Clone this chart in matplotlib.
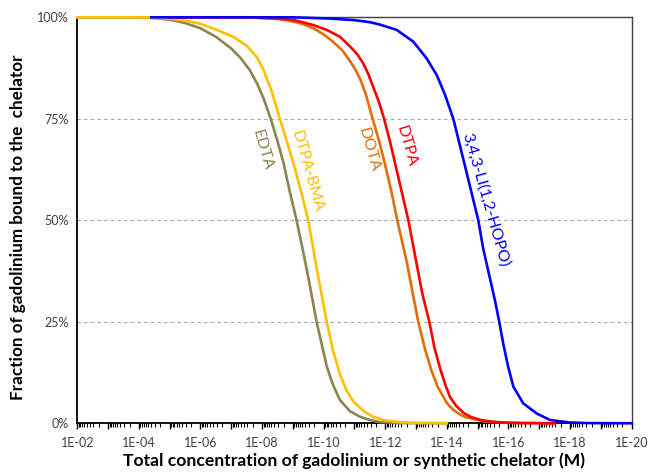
import matplotlib.pyplot as plt
import matplotlib.ticker as mticker
import numpy as np

plt.rcParams['font.family'] = ['Lato', 'DejaVu Sans']

# log10 of total concentration (M) and % of Gd bound, per chelator
edta_logc = [-2, -4, -4.5, -5, -5.5, -6, -6.5, -7, -7.3, -7.6, -7.85, -8.05, -8.28,
             -8.5, -8.7, -8.9, -9.12, -9.3, -9.5, -9.77, -9.95, -10.1, -10.3, -10.53,
             -10.85, -11.18, -11.5, -11.83, -12.5, -14]
edta_pct = [100, 100, 99.8, 99.4, 98.6, 97.3, 95.2, 92.3, 90, 87, 83.5, 80, 75,
            69.5, 64, 57, 50, 43.5, 36, 25, 19, 14, 9.5, 5.7,
            3, 1.6, 0.8, 0.3, 0.05, 0]

bma_logc = [-2, -4, -4.5, -5, -5.5, -6, -6.5, -7.06, -7.5, -7.83, -8.05, -8.3, -8.58,
            -8.8, -9.02, -9.27, -9.5, -9.8, -10.1, -10.3, -10.53, -10.75, -10.95,
            -11.3, -11.6, -12.0, -12.5, -13, -14]
bma_pct = [100, 100, 99.9, 99.7, 99.2, 98.4, 97, 95.2, 93, 90.2, 87, 82, 75,
           69.5, 64, 57, 50, 37, 25, 18, 12, 8, 5.5,
           3, 1.6, 0.7, 0.25, 0.1, 0]

dota_logc = [-5, -7.5, -8.3, -8.8, -9.3, -9.66, -10.0, -10.3, -10.6, -10.85, -11.04,
             -11.2, -11.37, -11.59, -11.8, -12.0, -12.2, -12.39, -12.69, -13.07, -13.3,
             -13.5, -13.7, -13.85, -14.0, -14.18, -14.4, -14.6, -15.2, -16, -17.5]
dota_pct = [100, 100, 99.7, 99.3, 98.4, 97.3, 95.8, 94, 91.9, 89.3, 87,
            84.5, 81, 75, 69.5, 63.5, 57, 50, 40, 25, 18,
            13, 9, 7, 5, 3.5, 2.3, 1.5, 0.5, 0.1, 0]

dtpa_logc = [-5, -7.6, -8.5, -9.0, -9.66, -10.1, -10.53, -10.86, -11.1, -11.28, -11.45,
             -11.61, -11.8, -11.96, -12.15, -12.35, -12.55, -12.75, -13.0, -13.2, -13.43,
             -13.6, -13.8, -13.95, -14.1, -14.3, -14.55, -14.8, -15.1, -15.5, -15.8,
             -16.5, -17.5]
dtpa_pct = [100, 100, 99.7, 99.4, 98.1, 96.9, 95.2, 92.8, 90.8, 88.7, 86,
            82.8, 79, 75, 69.5, 63, 56.5, 50, 40, 32, 25,
            18.5, 13, 9.5, 6.5, 4.3, 2.5, 1.5, 0.8, 0.35, 0.2,
            0.05, 0]

hopo_logc = [-4.4, -9.0, -10.2, -11.0, -11.5, -11.83, -12.37, -12.91, -13.34, -13.67,
             -13.94, -14.21, -14.6, -15.02, -15.18, -15.56, -15.70, -15.83, -15.99,
             -16.16, -16.48, -16.92, -17.35, -17.99, -18.6, -20]
hopo_pct = [100, 100, 99.7, 99.3, 98.8, 98.2, 96.9, 94, 89.9, 85.8,
            80.9, 75, 63, 50, 43, 30.3, 25, 19.6, 13.9,
            9, 4.9, 2.4, 0.8, 0.2, 0.05, 0]

y_ticks = [0, 25, 50, 75, 100]

series = [
    ('EDTA', edta_logc, edta_pct, '#8C8452', (262, 150)),
    ('DTPA-BMA', bma_logc, bma_pct, '#FFC000', (307, 171)),
    ('DOTA', dota_logc, dota_pct, '#E46C0A', (369, 150)),
    ('DTPA', dtpa_logc, dtpa_pct, '#FF0000', (406, 146)),
    ('3,4,3-LI(1,2-HOPO)', hopo_logc, hopo_pct, '#0000FF', (486, 200)),
]

fig = plt.figure(figsize=(6.48, 4.73), dpi=100)
ax = fig.add_axes([0.1193, 0.1051, 0.8555, 0.8583])

for name, logc, pct, color, (px, py) in series:
    ax.plot(10.0 ** np.array(logc), pct, color=color, lw=1.9, zorder=3,
            clip_on=False, solid_joinstyle='round')
    ax.text(px / 648, 1 - py / 473, name, transform=fig.transFigure, color=color,
            fontsize=11.5, rotation=-74, ha='center', va='center',
            rotation_mode='anchor')

ax.set_xscale('log')
ax.set_xlim(1e-2, 1e-20)
ax.set_ylim(0, 100)

# every decade gets a tick, only even exponents are labelled
ax.xaxis.set_minor_locator(mticker.LogLocator(base=10, subs=np.arange(2, 10), numticks=30))
ax.xaxis.set_minor_formatter(mticker.NullFormatter())
ax.set_xticks([10.0 ** -e for e in range(2, 21)])
ax.set_xticklabels(['1E-%02d' % e if e % 2 == 0 else '' for e in range(2, 21)])
ax.tick_params(axis='x', which='major', length=4, width=1, direction='out',
               labelsize=9, labelcolor='#404040', pad=6)
ax.tick_params(axis='x', which='minor', length=3, width=0.8, direction='out')

ax.set_yticks(y_ticks)
ax.set_yticklabels(['%d%%' % v for v in y_ticks])
ax.tick_params(axis='y', length=0, labelsize=9, labelcolor='#404040', pad=6)

for v in [25, 50, 75]:
    ax.axhline(v, color='#A6A6A6', lw=0.8, ls=(0, (3, 3)), zorder=1)

for side in ['left', 'bottom']:
    ax.spines[side].set_linewidth(1.3)
    ax.spines[side].set_color('black')
for side in ['top', 'right']:
    ax.spines[side].set_linewidth(1.0)
    ax.spines[side].set_color('#404040')

ax.set_xlabel('Total concentration of gadolinium or synthetic chelator (M)',
              fontsize=12.6, fontweight='bold')
ax.xaxis.set_label_coords(0.5, -0.072)
ax.set_ylabel('Fraction of gadolinium bound to the  chelator',
              fontsize=12.3, fontweight='bold')
ax.yaxis.set_label_coords(-0.092, 0.482)

fig.savefig('out.png', dpi=100)
